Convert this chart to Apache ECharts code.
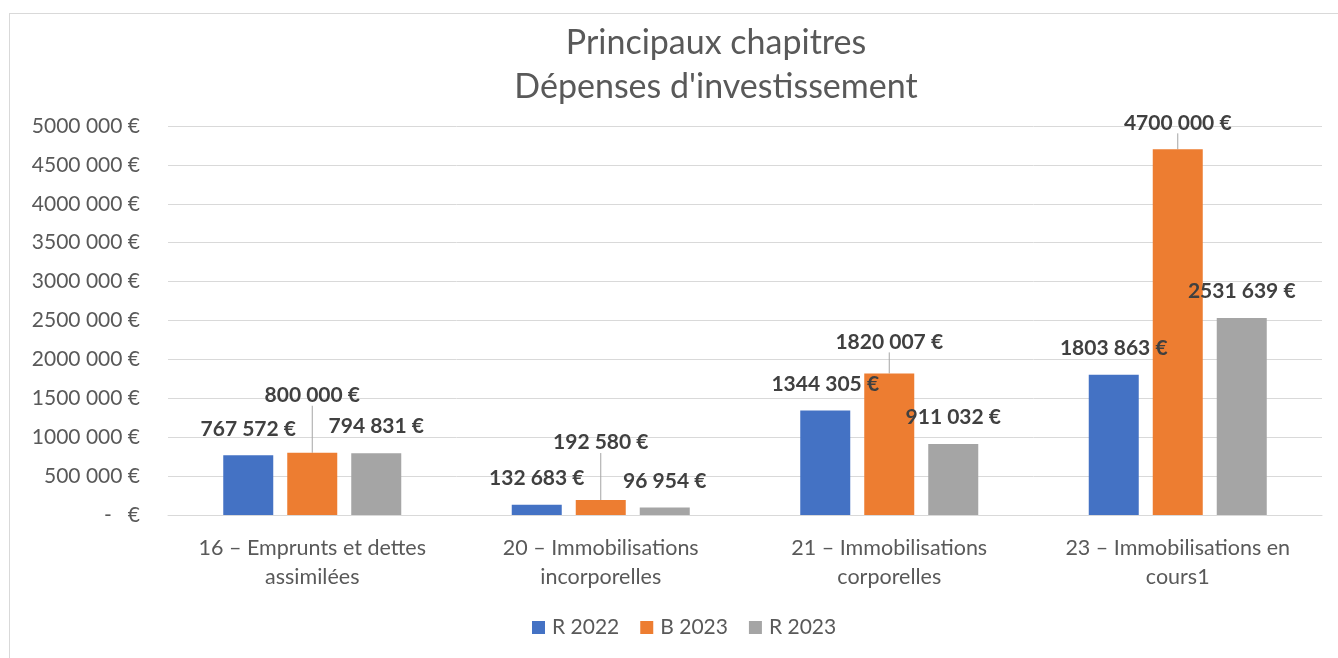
<!DOCTYPE html>
<html>
<head>
<meta charset="utf-8">
<title>Principaux chapitres - Dépenses d'investissement</title>
<script src="https://cdn.jsdelivr.net/npm/echarts@6/dist/echarts.min.js"></script>
<style>
  html, body { margin: 0; padding: 0; background: #fff; }
  #chart { position: absolute; left: 0; top: 0; width: 1338px; height: 658px; }
  .frame {
    position: absolute; left: 9px; top: 13px; width: 1340px; height: 660px;
    border: 1px solid #d9d9d9; pointer-events: none;
  }
</style>
</head>
<body>
<div id="chart"></div>
<div class="frame"></div>
<script>
// catégories (chapitres)
var categories = [
  '16 – Emprunts et dettes\nassimilées',
  '20 – Immobilisations\nincorporelles',
  '21 – Immobilisations\ncorporelles',
  '23 – Immobilisations en\ncours1'
]
var seriesNames = ['R 2022', 'B 2023', 'R 2023']
var r2022 = [767572, 132683, 1344305, 1803863]
var b2023 = [800000, 192580, 1820007, 4700000]
var r2023 = [794831, 96954, 911032, 2531639]

var colors = ['#4472c4', '#ed7d31', '#a5a5a5']
var font = 'Lato, "Noto Sans", sans-serif'

// format "1344 305 €" / "-   €" comme dans Excel
function euro (v) {
  if (v === 0) return '-   €'
  var k = Math.floor(v / 1000)
  var r = String(v % 1000)
  while (r.length < 3) r = '0' + r
  return k + ' ' + r + ' €'
}

// décalage vertical des étiquettes B 2023 (lignes de repère)
var lift = [-31, -31, -5, 0]

function makeSeries (name, data, idx) {
  var s = {
    name: name,
    type: 'bar',
    data: data,
    barWidth: 50,
    barGap: '28%',
    itemStyle: { color: colors[idx] },
    label: {
      show: true,
      position: 'top',
      distance: 16,
      fontFamily: font,
      fontWeight: 'bold',
      fontSize: 21,
      color: '#404040',
      formatter: function (p) { return euro(p.value) }
    }
  }
  if (idx === 1) {
    s.labelLine = { show: true, lineStyle: { color: '#a5a5a5', width: 1 } }
    s.labelLayout = function (p) {
      return { dy: lift[p.dataIndex] }
    }
  }
  return s
}

var myChart = echarts.init(document.getElementById('chart'))
myChart.setOption({
  animation: false,
  title: {
    text: 'Principaux chapitres\nDépenses d\'investissement',
    left: 711,
    textAlign: 'center',
    top: 16,
    textStyle: {
      fontFamily: font,
      fontWeight: 'normal',
      fontSize: 34,
      lineHeight: 44,
      color: '#595959'
    }
  },
  legend: {
    left: 532,
    top: 617,
    padding: 0,
    icon: 'rect',
    itemWidth: 13,
    itemHeight: 13,
    itemGap: 21,
    textStyle: { fontFamily: font, fontSize: 21, color: '#595959', padding: [0, 0, 0, 2] },
    data: seriesNames
  },
  grid: {
    left: 168,
    right: 16,
    top: 126,
    bottom: 143
  },
  xAxis: {
    type: 'category',
    data: categories,
    axisLine: { lineStyle: { color: '#d9d9d9', width: 1 } },
    axisTick: { show: false },
    axisLabel: {
      margin: 19,
      fontFamily: font,
      fontSize: 21.5,
      lineHeight: 29,
      color: '#595959',
      interval: 0
    }
  },
  yAxis: {
    type: 'value',
    min: 0,
    max: 5000000,
    interval: 500000,
    axisLine: { show: false },
    axisTick: { show: false },
    splitLine: { lineStyle: { color: '#d9d9d9', width: 1 } },
    axisLabel: {
      margin: 28,
      fontFamily: font,
      fontSize: 21,
      color: '#595959',
      formatter: euro
    }
  },
  series: [
    makeSeries(seriesNames[0], r2022, 0),
    makeSeries(seriesNames[1], b2023, 1),
    makeSeries(seriesNames[2], r2023, 2)
  ]
})
</script>
</body>
</html>
